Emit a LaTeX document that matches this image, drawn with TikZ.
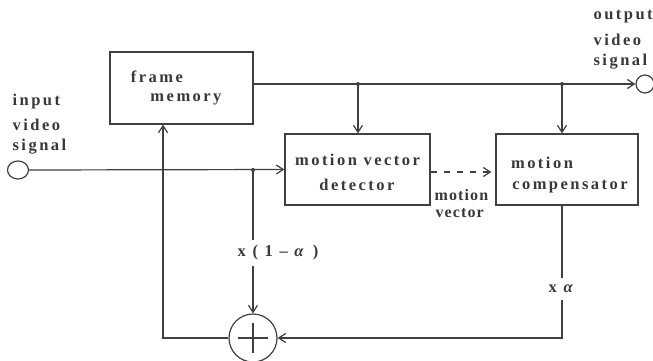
\documentclass[tikz,border=0pt]{standalone}
\usepackage{fontspec}
\setmainfont{Liberation Serif}[LetterSpace=15]
\usetikzlibrary{arrows.meta,shapes.geometric}
\begin{document}
\begin{tikzpicture}[x=1pt,y=-1pt,
  line width=1.2pt, draw=black!75,
  block/.style={draw, rectangle, line width=1.2pt, inner sep=0pt},
  lbl/.style={font=\fontsize{16.5}{22.5}\selectfont\bfseries, text=black!78, align=left, inner sep=0pt},
  tight/.style={font=\fontsize{16}{22.5}\selectfont\bfseries\addfontfeatures{LetterSpace=7}},
  arr/.style={-{Straight Barb[length=7pt,width=9pt,line width=1.2pt]}},
  jdot/.style={circle, fill=black!75, inner sep=0pt, minimum size=4pt},
  port/.style={draw, ellipse, line width=1.2pt, inner sep=0pt}]
\useasboundingbox (0,0) rectangle (653,361);

% blocks
\node[block, minimum width=143pt, minimum height=72pt] (fm) at (181.5,88) {};
\node[lbl] (fmt1) at (157,77) {frame};
\node[lbl] (fmt2) at (186,99) {memory};
\node[block, minimum width=145pt, minimum height=71pt] (det) at (357.5,169.5) {};
\node[lbl] (dett1) at (357.5,160) {motion vector};
\node[lbl] (dett2) at (357,185) {detector};
\node[block, minimum width=142pt, minimum height=71pt] (comp) at (567,169.5) {};
\node[lbl] (compt1) at (542,163) {motion};
\node[lbl] (compt2) at (570,187) {compensator};

% ports
\node[port, minimum width=21pt, minimum height=18pt] (in) at (18,170) {};
\node[port, minimum width=18pt, minimum height=18pt] (out) at (645,84) {};
\node[lbl, anchor=west] (inl1) at (12,102) {input};
\node[lbl, anchor=west] (inl2) at (12,125) {video};
\node[lbl, anchor=west] (inl3) at (12,147) {signal};
\node[lbl, anchor=west] (outl1) at (593,17) {output};
\node[lbl, anchor=west] (outl2) at (593,40) {video};
\node[lbl, anchor=west] (outl3) at (593,62) {signal};

% adder
\node[draw, circle, line width=1.2pt, minimum size=48pt, inner sep=0pt] (add) at (253,338) {};
\draw[line width=1.2pt] ([xshift=-15pt]add.center) -- ([xshift=15pt]add.center);
\draw[line width=1.2pt] ([yshift=-15pt]add.center) -- ([yshift=15pt]add.center);

% junctions
\coordinate (j1) at (253,170);
\coordinate (j2) at (358,84);
\coordinate (j3) at (562,84);
\coordinate (c1) at (562,338);
\coordinate (c2) at (163,338);
\node[jdot] (d1) at (j1) {};
\node[jdot] (d2) at (j2) {};
\node[jdot] (d3) at (j3) {};

% connectors
\draw[arr] (in.east) -- (det.west);
\draw[arr] ([yshift=4pt]fm.east) -- (out.west);
\draw[arr] (j2) -- (j2 |- det.north);
\draw[arr] (j3) -- (j3 |- comp.north);
\draw[arr, dash pattern=on 6pt off 7pt] ([yshift=-2.5pt]det.east) -- ([xshift=-4pt,yshift=-2.5pt]comp.west);
\node[lbl, tight, anchor=west] (mvl1) at (434,195) {motion};
\node[lbl, tight, anchor=west] (mvl2) at (435,213) {vector};

\draw[arr] (j1) -- (add.north);
\node[lbl, fill=white, inner ysep=6pt, inner xsep=1pt] (k1) at (278,253) {x ( 1 \textendash{} \textit{α} )};

\draw[arr] (j3 |- comp.south) -- (c1) -- (add.east);
\node[lbl, fill=white, inner ysep=7pt, inner xsep=1pt] (k2) at (562,289) {x \textit{α}};

\draw[arr] (add.west) -- (c2) -- (c2 |- fm.south);
\end{tikzpicture}
\end{document}
